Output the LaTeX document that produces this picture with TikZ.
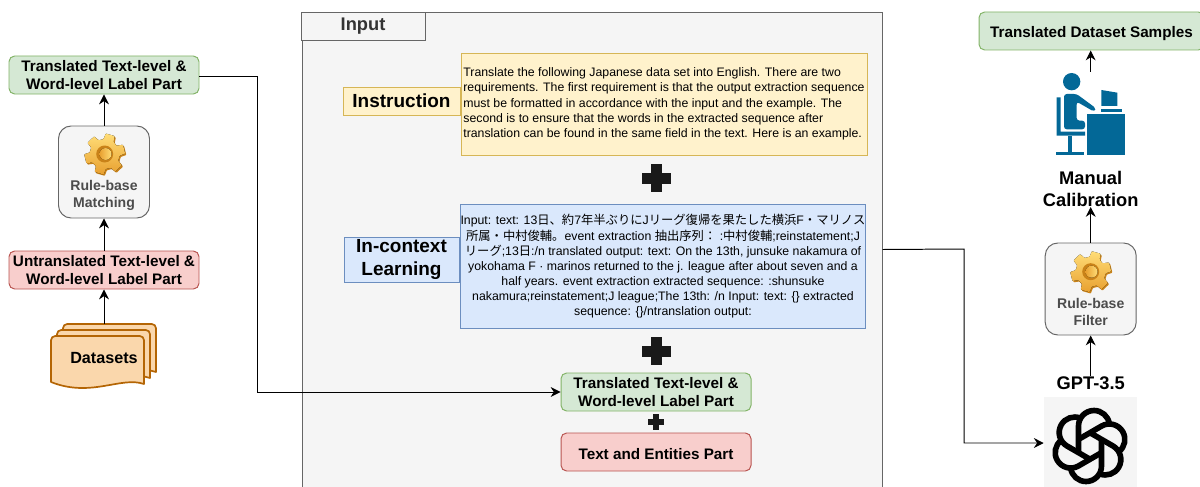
\documentclass[tikz,border=0pt]{standalone}
\usepackage{fontspec}
\setmainfont{Liberation Sans}
\newfontfamily\cjk{Noto Sans CJK JP}
\newcommand{\jp}[1]{{\cjk #1}}
\usetikzlibrary{arrows.meta}

\definecolor{greenfill}{HTML}{D5E8D4}
\definecolor{greenline}{HTML}{82B366}
\definecolor{redfill}{HTML}{F8CECC}
\definecolor{redline}{HTML}{B85450}
\definecolor{yellowfill}{HTML}{FFF2CC}
\definecolor{yellowline}{HTML}{D6B656}
\definecolor{bluefill}{HTML}{DAE8FC}
\definecolor{blueline}{HTML}{6C8EBF}
\definecolor{orangefill}{HTML}{FAD7AC}
\definecolor{orangeline}{HTML}{B46504}
\definecolor{greyfill}{HTML}{F5F5F5}
\definecolor{greyline}{HTML}{666666}
\definecolor{iconblue}{HTML}{036897}
\definecolor{gearlight}{HTML}{FFDD77}
\definecolor{geardark}{HTML}{E8A030}
\definecolor{gearside}{HTML}{C98218}

\tikzset{
  partbox/.style={draw, rounded corners=4pt, line width=0.7pt, minimum width=190*0.025cm, minimum height=38*0.025cm, align=center, font=\fontsize{10.85}{13.4}\selectfont\bfseries, inner sep=0pt, execute at begin node={\rule{0pt}{11pt}}},
  greenbox/.style={partbox, fill=greenfill, draw=greenline},
  redbox/.style={partbox, fill=redfill, draw=redline},
  rulebox/.style={draw=greyline, fill=greyfill, line width=0.7pt, rounded corners=9pt, minimum width=91*0.025cm, minimum height=92*0.025cm},
  ruletext/.style={align=center, text=black!70, font=\fontsize{10}{12.4}\selectfont\bfseries, inner sep=0pt},
  sidebox/.style={draw, line width=0.7pt, align=center, inner sep=0pt, font=\fontsize{13.5}{16}\selectfont\bfseries},
  textbox/.style={draw, line width=0.6pt, align=center, inner sep=0pt, font=\fontsize{8.75}{10.8}\selectfont},
  plaintext/.style={align=center, inner sep=0pt, font=\fontsize{13}{15.6}\selectfont\bfseries},
  arrow/.style={line width=0.7pt, -{Stealth[length=7pt,width=7pt]}},
  gearshape/.style={rounded corners=0.5pt, rotate=14},
  gear/.pic={
    \fill[gearside, gearshape, shift={(0.8,1.6)}]
      (-20:14.5) foreach \a in {0,60,...,300} {
        -- (\a-20:15) -- (\a-13:20.5) -- (\a+13:20.5) -- (\a+20:15)
      } -- cycle;
    \fill[top color=gearlight, bottom color=geardark, gearshape]
      (-20:14.5) foreach \a in {0,60,...,300} {
        -- (\a-20:15) -- (\a-13:20.5) -- (\a+13:20.5) -- (\a+20:15)
      } -- cycle;
    \fill[gearside] (0,0) circle (8.5);
    \fill[left color=geardark, right color=gearlight] (0.8,0) circle (6);
  },
  plus/.pic={
    \fill[black!90] (-5.5,-14) rectangle (5.5,14);
    \fill[black!90] (-14.5,-5.5) rectangle (14.5,5.5);
  },
  smallplus/.pic={
    \fill[black!90] (-3,-8) rectangle (3,8);
    \fill[black!90] (-8,-3) rectangle (8,3);
  },
  sheet/.pic={
    \draw[very thick, draw=orangeline, fill=orangefill, line join=round]
      (0,4) [rounded corners=3pt] -- (0,0) -- (93,0) [sharp corners] -- (93,48)
      .. controls (70,40) and (40,62) .. (0,46) -- cycle;
  }
}

\begin{document}
\begin{tikzpicture}[x=0.025cm, y=-0.025cm]
\useasboundingbox (0,0) rectangle (1200,486);
\clip (0,0) rectangle (1200,486);

% left column
\node[greenbox] (leftgreen) at (104,75) {Translated Text-level \&\\Word-level Label Part};
\node[rulebox] (rulematch) at (104,172) {};
\pic at (104.7,154) {gear};
\node[ruletext] (matchtext) at (104,195.5) {Rule-base\\Matching};
\node[redbox] (leftred) at (104,270) {Untranslated Text-level \&\\Word-level Label Part};
\pic at (63,324) {sheet};
\pic at (57,330) {sheet};
\pic at (51,336) {sheet};
\node[minimum width=105*0.025cm, minimum height=63*0.025cm, font=\fontsize{11.5}{13}\selectfont\bfseries, inner sep=0pt, text height=12pt] (datasets) at (104,355.5) {Datasets};

\draw[arrow] (datasets.north) -- (leftred.south);
\draw[arrow] (leftred.north) -- (rulematch.south);
\draw[arrow] (rulematch.north) -- (leftgreen.south);

% input panel
\node[draw=greyline, fill=greyfill, line width=0.7pt, minimum width=580*0.025cm, minimum height=475*0.025cm, inner sep=0pt] (input) at (592,249.5) {};
\node[draw=greyline, fill=greyfill, line width=0.7pt, minimum width=124*0.025cm, minimum height=28*0.025cm, font=\fontsize{13}{14}\selectfont\bfseries, text=black!80, inner sep=0pt] (inputtab) at (363,26) {Input};

\node[sidebox, fill=yellowfill, draw=yellowline, minimum width=117*0.025cm, minimum height=28*0.025cm] (instruction) at (401.5,101) {Instruction};
\node[textbox, fill=yellowfill, draw=yellowline, minimum width=406*0.025cm, minimum height=102*0.025cm, align=left] (instructiontext) at (664,104) {Translate the following Japanese data set into English. There are two\\requirements. The first requirement is that the output extraction sequence\\must be formatted in accordance with the input and the example. The\\second is to ensure that the words in the extracted sequence after\\translation can be found in the same field in the text. Here is an example.};
\pic at (656,178) {plus};

\node[sidebox, fill=bluefill, draw=blueline, minimum width=115*0.025cm, minimum height=45*0.025cm] (incontext) at (401.5,259.5) {In-context\\Learning};
\node[textbox, fill=bluefill, draw=blueline, minimum width=404*0.025cm, minimum height=124*0.025cm] (incontexttext) at (663,266.5) {Input: text: 13\jp{日、約}7\jp{年半ぶりに}J\jp{リーグ復帰を果たした横浜}F\jp{・マリノス}\\\jp{所属・中村俊輔。}event extraction \jp{抽出序列：}\ :\jp{中村俊輔};reinstatement;J\\\jp{リーグ};13\jp{日}:/n translated output: text: On the 13th, junsuke nakamura of\\yokohama F · marinos returned to the j. league after about seven and a\\half years. event extraction extracted sequence: :shunsuke\\nakamura;reinstatement;J league;The 13th: /n Input: text: \{\} extracted\\sequence: \{\}/ntranslation output:};
\pic at (656,351) {plus};

\node[greenbox] (midgreen) at (656,392) {Translated Text-level \&\\Word-level Label Part};
\pic at (656,422) {smallplus};
\node[redbox] (midred) at (656,452) {Text and Entities Part};

\coordinate (bendleft) at (257,76);
\draw[arrow] (leftgreen.east |- bendleft) -- (bendleft) |- (midgreen.west);

% right column
\node[greenbox, minimum width=225*0.025cm] (rightgreen) at (1091.5,31) {Translated Dataset Samples};

\begin{scope}[shift={(960,0)}, scale=0.3333]
\fill[iconblue] (335,245) circle (26);
\fill[iconblue, rounded corners=2pt] (312,282) -- (350,282) -- (408,325) -- (402,335) -- (350,305) -- (350,362) -- (375,362) -- (375,388) -- (312,388) -- cycle;
\fill[iconblue] (290,292) -- (302,292) -- (302,395) -- (375,395) -- (375,407) -- (290,407) -- cycle;
\fill[iconblue] (325,407) rectangle (335,455);
\fill[iconblue] (288,455) rectangle (372,465);
\fill[iconblue] (382,342) rectangle (494,465);
\fill[iconblue] (424,270) -- (472,278) -- (472,318) -- (424,318) -- cycle;
\fill[iconblue] (422,326) rectangle (486,335);
\end{scope}
\coordinate (personup) at (1090.7,72);
\draw[arrow] (personup) -- (personup |- rightgreen.south);

\node[plaintext] (manual) at (1090.7,189) {Manual\\Calibration};
\node[rulebox] (rulefilter) at (1090.7,289) {};
\pic at (1090.7,271.7) {gear};
\node[ruletext] (filtertext) at (1090.7,312) {Rule-base\\Filter};
\draw[arrow] (rulefilter.north) -- (manual.south);

\node[plaintext] (gpt) at (1090.7,383) {GPT-3.5};
\draw[arrow] (gpt.north) -- (rulefilter.south);

\node[fill=greyfill, minimum width=93*0.025cm, minimum height=92*0.025cm, inner sep=0pt] (logo) at (1090.5,443) {};
\foreach \a in {0,60,...,300} {
  \draw[line width=4pt, shift={(1090,446)}, rotate=\a]
    (11.5,-6.5) -- (11.5,20) arc (0:172:15.5);
}

\coordinate (bendright) at (964,249);
\draw[arrow] (input.east) -- (bendright) |- (logo.west);
\end{tikzpicture}
\end{document}
